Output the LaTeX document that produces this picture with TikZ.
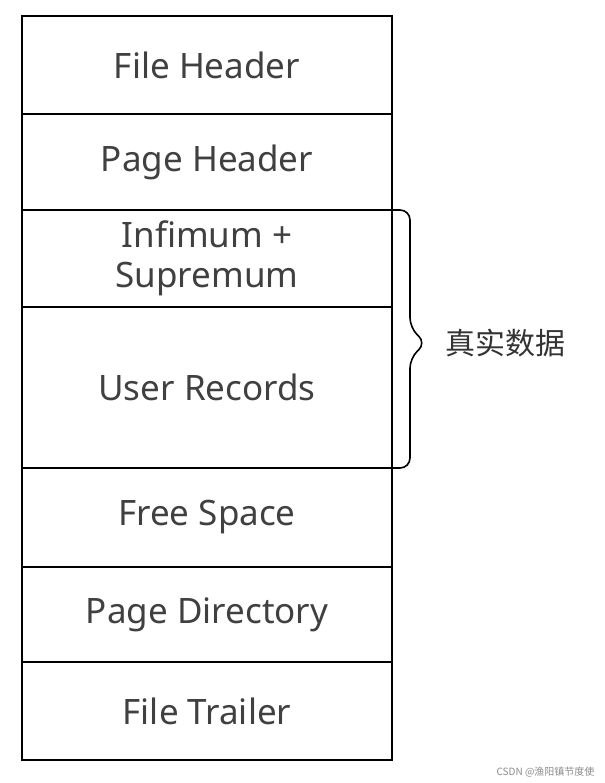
\documentclass[tikz,border=0pt]{standalone}
\usepackage{fontspec}
\setmainfont{Noto Sans}
\newfontfamily\cjk{Noto Sans CJK SC}
\usetikzlibrary{decorations.pathreplacing}
\begin{document}
\begin{tikzpicture}[x=1pt,y=-1pt,
  lbl/.style={font=\fontsize{35}{42}\selectfont,text=black!75,align=center}]
\useasboundingbox (0,0) rectangle (604,783);
\fill[white] (0,0) rectangle (604,783);
\foreach \n/\a/\b/\t in {fh/16/114/File Header, ph/114/210/Page Header, is/210/307/{Infimum +\\[-2pt] Supremum}, ur/307/468/User Records, fs/468/567/Free Space, pd/567/662/Page Directory, ft/662/760/File Trailer}{
  \draw[line width=1.8pt] (22,\a) rectangle (392,\b);
  \node[lbl] (\n) at (207,{(\a+\b)/2}) {\t};
}
\draw[line width=1.6pt,rounded corners=10pt] (392,210) -- (410,210) -- (410,328) -- (426,343) -- (410,358) -- (410,468) -- (392,468);
\node[anchor=west,font=\cjk\fontsize{30}{34}\selectfont,text=black!80] (zs) at (442,343) {真实数据};
\node[anchor=east,font=\cjk\fontsize{10}{12}\selectfont,text=black!45] (wm) at (598,772) {CSDN @渔阳镇节度使};
\end{tikzpicture}
\end{document}
